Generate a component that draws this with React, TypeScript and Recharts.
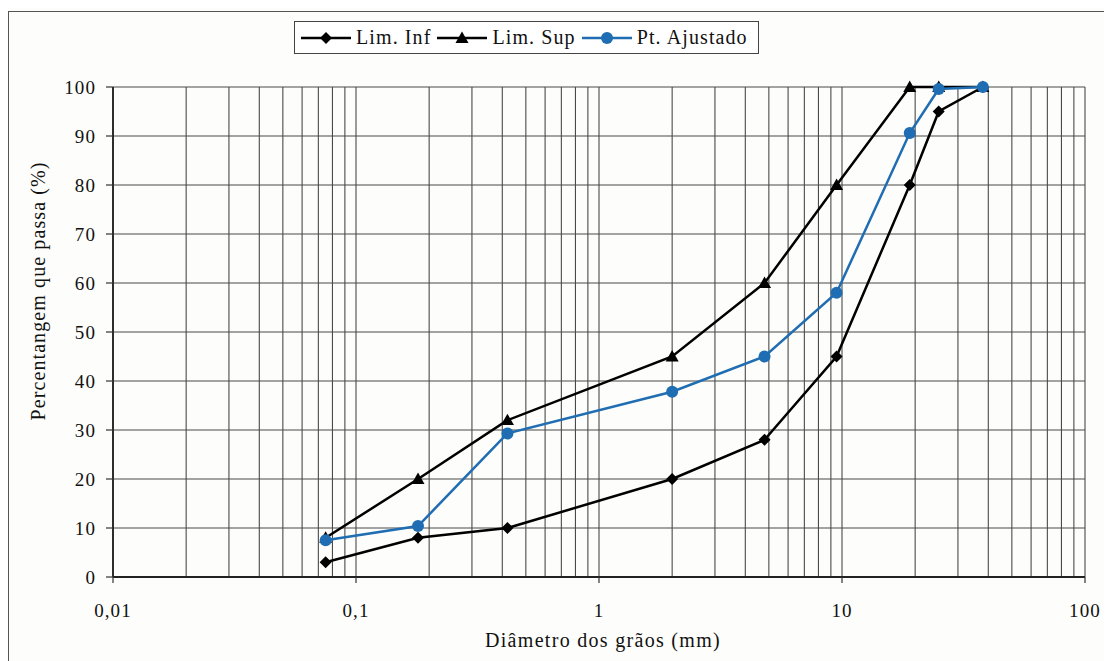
import { CartesianGrid, Label, Legend, Line, LineChart, XAxis, YAxis } from 'recharts';

// aberturas das peneiras (mm)
const sieves = [0.075, 0.18, 0.42, 2.0, 4.8, 9.5, 19, 25, 38];
const limInf = [3, 8, 10, 20, 28, 45, 80, 95, 100];
const limSup = [8, 20, 32, 45, 60, 80, 100, 100, 100];
const ptAjustado = [7.5, 10.4, 29.3, 37.8, 45, 58, 90.6, 99.6, 100];

const decades = [0.01, 0.1, 1, 10, 100];
const decadeLabels = ['0,01', '0,1', '1', '10', '100'];
const xTicks = [
  0.01, 0.02, 0.03, 0.04, 0.05, 0.06, 0.07, 0.08, 0.09,
  0.1, 0.2, 0.3, 0.4, 0.5, 0.6, 0.7, 0.8, 0.9,
  1, 2, 3, 4, 5, 6, 7, 8, 9,
  10, 20, 30, 40, 50, 60, 70, 80, 90,
  100
];
const yTicks = [0, 10, 20, 30, 40, 50, 60, 70, 80, 90, 100];

const data = sieves.map((d, i) => ({
  d,
  inf: limInf[i],
  sup: limSup[i],
  aj: ptAjustado[i]
}));

const BLUE = '#1f6db2';
const FONT = "'Times New Roman', 'Liberation Serif', serif";
const SPACING = 1.1;

const diamond = (cx: number, cy: number, r: number, fill: string) => (
  <polygon points={`${cx},${cy - r} ${cx + r},${cy} ${cx},${cy + r} ${cx - r},${cy}`} fill={fill} />
);
const triangle = (cx: number, cy: number, r: number, fill: string) => (
  <polygon points={`${cx},${cy - r} ${cx + r},${cy + r * 0.75} ${cx - r},${cy + r * 0.75}`} fill={fill} />
);

const InfDot = (p: any) => <g key={`inf-${p.index}`}>{diamond(p.cx, p.cy, 6, '#000')}</g>;
const SupDot = (p: any) => <g key={`sup-${p.index}`}>{triangle(p.cx, p.cy, 6.5, '#000')}</g>;
const AjDot = (p: any) => <circle key={`aj-${p.index}`} cx={p.cx} cy={p.cy} r={6} fill={BLUE} />;

const XTick = (props: any) => {
  const { x, y, payload } = props;
  const idx = decades.indexOf(payload.value);
  if (idx < 0) return <g />;
  return (
    <g>
      <line x1={x} x2={x} y1={y} y2={y + 6} stroke="#333" strokeWidth={1.2} />
      <text
        x={x}
        y={y + 40}
        textAnchor="middle"
        fontFamily={FONT}
        fontSize={19}
        letterSpacing={SPACING}
        fill="#111"
      >
        {decadeLabels[idx]}
      </text>
    </g>
  );
};

const legendItems = [
  { name: 'Lim. Inf', color: '#000', mark: 'diamond' },
  { name: 'Lim. Sup', color: '#000', mark: 'triangle' },
  { name: 'Pt. Ajustado', color: BLUE, mark: 'circle' }
];

function LegendBox() {
  return (
    <div
      style={{
        border: '1.5px solid #444',
        background: '#fff',
        display: 'flex',
        alignItems: 'center',
        height: 31,
        padding: '0 10px 0 6px',
        fontFamily: FONT,
        fontSize: 20,
        letterSpacing: SPACING,
        color: '#111',
        whiteSpace: 'nowrap'
      }}
    >
      {legendItems.map((it, i) => (
        <span
          key={it.name}
          style={{ display: 'flex', alignItems: 'center', marginRight: i < legendItems.length - 1 ? 6 : 0 }}
        >
          <svg width={50} height={16} style={{ marginRight: 5 }}>
            <line x1={0} x2={50} y1={8} y2={8} stroke={it.color} strokeWidth={2.5} />
            {it.mark === 'diamond' && diamond(25, 8, 6, it.color)}
            {it.mark === 'triangle' && triangle(25, 8, 6.5, it.color)}
            {it.mark === 'circle' && <circle cx={25} cy={8} r={6} fill={it.color} />}
          </svg>
          {it.name}
        </span>
      ))}
    </div>
  );
}

export default function App() {
  return (
    <div style={{ position: 'relative', width: 1104, height: 653, overflow: 'hidden', background: '#fdfdfb' }}>
      <div
        style={{
          position: 'absolute',
          left: 0,
          top: 3,
          width: 1200,
          height: 800,
          borderLeft: '1.5px solid #555',
          borderTop: '1.5px solid #555'
        }}
      />
      <LineChart
        width={1104}
        height={653}
        data={data}
        margin={{ top: 79, right: 27, bottom: 44, left: 45 }}
        style={{ position: 'absolute', left: 0, top: 0 }}
      >
        <CartesianGrid stroke="#4a4a4a" strokeWidth={1.1} />
        <XAxis
          dataKey="d"
          type="number"
          scale="log"
          domain={[0.01, 100]}
          ticks={xTicks}
          interval={0}
          tick={<XTick />}
          tickLine={false}
          tickSize={0}
          tickMargin={0}
          height={40}
          axisLine={{ stroke: '#222', strokeWidth: 1.8 }}
          allowDataOverflow
        >
          <Label
            content={(p: any) => (
              <text
                x={p.viewBox.x + p.viewBox.width / 2 + 4}
                y={p.viewBox.y + 70}
                textAnchor="middle"
                fontFamily={FONT}
                fontSize={20}
                letterSpacing={1.3}
                fill="#111"
              >
                Diâmetro dos grãos (mm)
              </text>
            )}
          />
        </XAxis>
        <YAxis
          type="number"
          domain={[0, 100]}
          ticks={yTicks}
          interval={0}
          width={60}
          tickSize={7}
          tickMargin={10}
          tickLine={{ stroke: '#333', strokeWidth: 1.2 }}
          axisLine={{ stroke: '#222', strokeWidth: 1.8 }}
          tick={{ fontFamily: FONT, fontSize: 19, fill: '#111', letterSpacing: SPACING }}
        >
          <Label
            content={() => {
              const x = 32;
              const y = 283;
              return (
                <text
                  x={x}
                  y={y}
                  transform={`rotate(-90 ${x} ${y})`}
                  textAnchor="middle"
                  dominantBaseline="middle"
                  fontFamily={FONT}
                  fontSize={20}
                  letterSpacing={SPACING}
                  fill="#111"
                >
                  Percentangem que passa (%)
                </text>
              );
            }}
          />
        </YAxis>
        <Legend
          layout="horizontal"
          verticalAlign="middle"
          align="center"
          content={() => <LegendBox />}
          wrapperStyle={{ top: 13, left: 286, width: 'auto', height: 'auto' }}
        />
        <Line dataKey="inf" stroke="#000" strokeWidth={2.5} dot={InfDot} isAnimationActive={false} />
        <Line dataKey="sup" stroke="#000" strokeWidth={2.5} dot={SupDot} isAnimationActive={false} />
        <Line dataKey="aj" stroke={BLUE} strokeWidth={2.5} dot={AjDot} isAnimationActive={false} />
      </LineChart>
    </div>
  );
}
